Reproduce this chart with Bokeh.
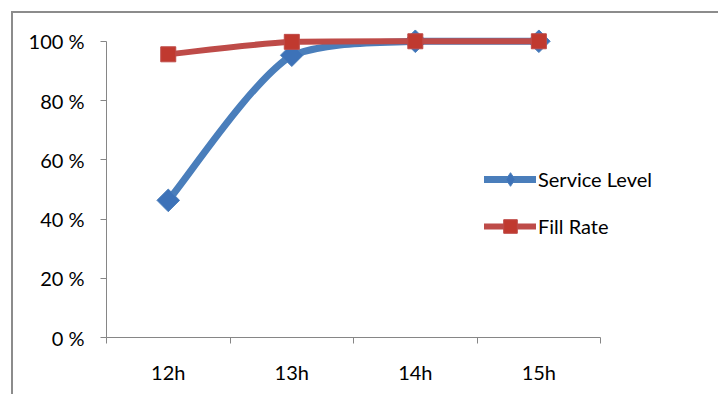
from bokeh.plotting import figure
from bokeh.models import (Range1d, FixedTicker, Legend, LegendItem, ColumnDataSource)
from bokeh.embed import file_html
from bokeh.resources import INLINE
import math

# --- data -------------------------------------------------------------
hours = ["12h", "13h", "14h", "15h"]
service_level = [0.463, 0.953, 1.0, 1.0]
fill_rate = [0.956, 0.998, 1.0, 1.0]
y_ticks = [0, 0.2, 0.4, 0.6, 0.8, 1.0]
y_tick_labels = ["0 %", "20 %", "40 %", "60 %", "80 %", "100 %"]

BLUE = "#4a7ebb"
BLUE_FILL = "#3d72b8"
RED = "#be4b48"
RED_FILL = "#c0392f"
AXIS = "#868686"
FONT = "Lato"

xs = [i + 0.5 for i in range(len(hours))]


def smooth_segments(x, y):
    """Cubic Bezier segments through the points, control points kept within
    each segment's value span so the curve does not overshoot."""
    n = len(x)
    seg = dict(x0=[], y0=[], x1=[], y1=[], cx0=[], cy0=[], cx1=[], cy1=[])
    for i in range(n - 1):
        a = max(i - 1, 0)
        d = min(i + 2, n - 1)
        lo, hi = min(y[i], y[i + 1]), max(y[i], y[i + 1])
        seg["x0"].append(x[i]); seg["y0"].append(y[i])
        seg["x1"].append(x[i + 1]); seg["y1"].append(y[i + 1])
        seg["cx0"].append(x[i] + (x[i + 1] - x[a]) / 6)
        seg["cy0"].append(min(max(y[i] + (y[i + 1] - y[a]) / 6, lo), hi))
        seg["cx1"].append(x[i + 1] - (x[d] - x[i]) / 6)
        seg["cy1"].append(min(max(y[i + 1] - (y[d] - y[i]) / 6, lo), hi))
    return ColumnDataSource(seg)


p = figure(width=707, height=383, output_backend="svg", toolbar_location=None,
           x_range=Range1d(0, 4.93), y_range=Range1d(0, 1.06),
           min_border_left=93, min_border_right=5, min_border_top=10,
           min_border_bottom=59)
p.styles = {"margin-left": "11px", "margin-top": "11px",
            "border-left": "2px solid #8c8c8c", "border-top": "2px solid #8c8c8c"}
p.outline_line_color = None
p.xgrid.visible = False
p.ygrid.visible = False

# y axis
ya = p.yaxis[0]
ya.ticker = FixedTicker(ticks=y_ticks, minor_ticks=[])
ya.major_label_overrides = {t: l for t, l in zip(y_ticks, y_tick_labels)}
ya.bounds = (0, 1)
ya.axis_line_color = AXIS
ya.major_tick_line_color = AXIS
ya.major_tick_out = 6
ya.major_tick_in = 0
ya.major_label_standoff = 16
ya.major_label_text_font = FONT
ya.major_label_text_font_size = "20px"
ya.major_label_text_color = "#000000"

# x axis: labels at category centres, ticks on category boundaries
xa = p.xaxis[0]
xa.ticker = FixedTicker(ticks=xs, minor_ticks=list(range(len(hours) + 1)))
xa.major_label_overrides = {x: h for x, h in zip(xs, hours)}
xa.bounds = (0, len(hours))
xa.axis_line_color = AXIS
xa.major_tick_line_color = None
xa.minor_tick_line_color = AXIS
xa.minor_tick_out = 6
xa.minor_tick_in = 0
xa.major_tick_out = 6
xa.major_label_standoff = 16
xa.major_label_text_font = FONT
xa.major_label_text_font_size = "20px"
xa.major_label_text_color = "#000000"

# series
p.bezier(x0="x0", y0="y0", x1="x1", y1="y1", cx0="cx0", cy0="cy0", cx1="cx1", cy1="cy1",
         source=smooth_segments(xs, service_level), line_color=BLUE, line_width=7,
         line_cap="round")
p.scatter(xs, service_level, marker="square", angle=math.pi / 4, size=16,
          fill_color=BLUE_FILL, line_color=BLUE, line_width=1)

p.bezier(x0="x0", y0="y0", x1="x1", y1="y1", cx0="cx0", cy0="cy0", cx1="cx1", cy1="cy1",
         source=smooth_segments(xs, fill_rate), line_color=RED, line_width=6,
         line_cap="round")
p.scatter(xs, fill_rate, marker="square", size=15,
          fill_color=RED_FILL, line_color=RED, line_width=1)

# legend entries
nan = float("nan")
sl_line = p.line([nan], [nan], line_color=BLUE, line_width=7, line_cap="round")
sl_mark = p.scatter([nan], [nan], marker="diamond", size=10,
                    fill_color=BLUE_FILL, line_color=BLUE)
fr_line = p.line([nan], [nan], line_color=RED, line_width=6, line_cap="round")
fr_mark = p.scatter([nan], [nan], marker="square", size=10,
                    fill_color=RED_FILL, line_color=RED)

legend = Legend(items=[LegendItem(label="Service Level", renderers=[sl_line, sl_mark]),
                       LegendItem(label="Fill Rate", renderers=[fr_line, fr_mark])],
                location=(378, 94), orientation="vertical",
                glyph_width=52, glyph_height=34, label_standoff=2, spacing=13,
                padding=0, margin=0, border_line_color=None,
                background_fill_alpha=0, label_text_font=FONT,
                label_text_font_size="20px", label_text_color="#000000")
p.add_layout(legend, "center")

open("out.html", "w").write(file_html(p, INLINE))
